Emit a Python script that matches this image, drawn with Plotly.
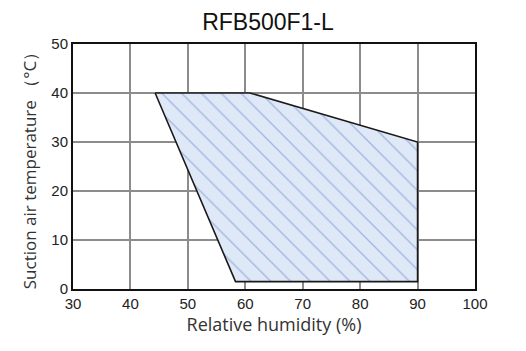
import plotly.graph_objects as go

humidity = [44.3, 60.8, 90, 90, 58.3, 44.3]
temperature = [40, 40, 30, 1.5, 1.5, 40]

x_ticks = [30, 40, 50, 60, 70, 80, 90, 100]
y_ticks = [0, 10, 20, 30, 40, 50]

fig = go.Figure()
fig.add_trace(go.Scatter(
    x=humidity, y=temperature, mode="lines", fill="toself",
    fillcolor="#dfe8f6",
    fillpattern=dict(shape="\\", fgcolor="#6688cc", bgcolor="#dfe8f6", size=14, solidity=0.1),
    line=dict(color="#1a1a1a", width=1.6),
    hoverinfo="skip", showlegend=False,
))

fig.update_layout(
    width=526, height=351,
    margin=dict(l=73, r=51, t=44, b=62),
    plot_bgcolor="white", paper_bgcolor="white",
    font=dict(family="Liberation Sans, Arial", color="#222"),
    title=dict(text="RFB500F1-L", x=268/526, xanchor="center", y=1-22/351, yanchor="middle",
               font=dict(size=23, family="Liberation Sans, Arial", color="#111")),
)
fig.update_xaxes(
    range=[30, 100], tickvals=x_ticks, ticktext=[str(v) for v in x_ticks],
    showgrid=True, gridcolor="#8c8c8c", gridwidth=2,
    showline=True, linecolor="#111", linewidth=2, mirror=True,
    ticks="", tickfont=dict(size=15, color="#222"), zeroline=False,
    title=dict(text="Relative humidity (%)", font=dict(size=18, family="Open Sans", color="#333"), standoff=7),
)
fig.update_yaxes(
    range=[0, 50], tickvals=y_ticks, ticktext=[str(v) for v in y_ticks],
    showgrid=True, gridcolor="#8c8c8c", gridwidth=2,
    showline=True, linecolor="#111", linewidth=2, mirror=True,
    ticks="", tickfont=dict(size=15, color="#222"), zeroline=False,
    title=dict(text="Suction air temperature （°C）", font=dict(size=17, family="Open Sans", color="#333"), standoff=10),
)

fig.write_html("out.html")
